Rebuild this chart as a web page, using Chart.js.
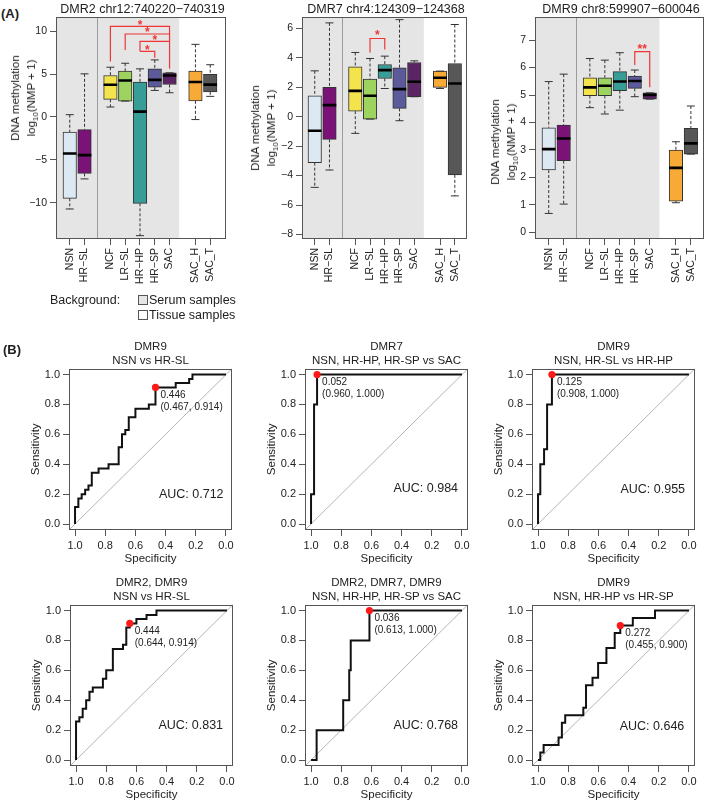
<!DOCTYPE html>
<html>
<head>
<meta charset="utf-8">
<script src="https://cdn.jsdelivr.net/npm/chart.js@4.4.1/dist/chart.umd.min.js"></script>
<style>
  body { margin: 0; background: #fff; font-family: "Liberation Sans", Arial, sans-serif; }
  #page { position: relative; width: 709px; height: 806px; overflow: hidden; }
  canvas, .txt { position: absolute; }
  .txt { color: #222; white-space: nowrap; }
  sub { font-size: 8px; line-height: 0; vertical-align: -3px; }
</style>
</head>
<body>
<div id="page"></div>
<script>
// ---- box plot data (panel A) ----
const groups = ['NSN', 'HR\u2212SL', 'NCF', 'LR\u2212SL', 'HR\u2212HP', 'HR\u2212SP', 'SAC', 'SAC_H', 'SAC_T'];
const groupPos = [1, 2, 3.75, 4.75, 5.75, 6.75, 7.75, 9.5, 10.5];
const groupColors = ['#dce8f2', '#7a1277', '#f3e44e', '#9dd45f', '#389c97', '#5c5a9b', '#5b2465', '#f7aa36', '#575757'];

// DMR2: lower whisker, Q1, median, Q3, upper whisker
const dmr2Low = [-10.7, -7.2, 1.16, 1.85, -13.8, 3.09, 2.82, -0.3, 2.4];
const dmr2Q1 = [-9.46, -6.56, 2.05, 1.85, -10.04, 3.47, 3.78, 1.88, 2.92];
const dmr2Med = [-4.25, -4.44, 3.75, 4.25, 0.62, 4.32, 4.83, 4.07, 3.77];
const dmr2Q3 = [-1.74, -1.47, 4.83, 5.33, 4.05, 5.6, 5.14, 5.35, 4.97];
const dmr2High = [0.27, 5.02, 5.79, 6.25, 5.6, 6.64, 5.14, 8.45, 6.08];
const dmr2Ticks = [-10, -5, 0, 5, 10];

// DMR7
const dmr7Low = [-4.8, -3.62, -1.13, -0.16, 1.92, -0.27, 1.36, 1.92, -5.38];
const dmr7Q1 = [-3.12, -1.54, 0.38, -0.16, 2.6, 0.57, 1.36, 2.0, -3.95];
const dmr7Med = [-0.95, 0.79, 1.76, 1.43, 3.17, 1.88, 2.38, 2.65, 2.26];
const dmr7Q3 = [1.43, 2.0, 3.4, 2.56, 3.55, 3.33, 3.69, 3.1, 3.62];
const dmr7High = [3.12, 6.38, 4.37, 3.96, 4.12, 6.6, 3.8, 3.1, 6.27];
const dmr7Ticks = [-8, -6, -4, -2, 0, 2, 4, 6];

// DMR9
const dmr9Low = [0.69, 1.03, 4.54, 4.31, 4.45, 4.94, 4.85, 1.08, 2.85];
const dmr9Q1 = [2.27, 2.61, 4.98, 4.98, 5.16, 5.24, 4.85, 1.14, 2.85];
const dmr9Med = [3.03, 3.42, 5.28, 5.34, 5.49, 5.51, 5.0, 2.35, 3.24];
const dmr9Q3 = [3.81, 3.91, 5.63, 5.63, 5.85, 5.69, 5.08, 3.0, 3.79];
const dmr9High = [5.49, 5.76, 6.33, 6.27, 6.54, 5.91, 5.08, 3.3, 4.6];
const dmr9Ticks = [0, 1, 2, 3, 4, 5, 6, 7];

// significance brackets: from group, to group, bar height, leg ends, star
const dmr2BrFrom = [3.75, 4.75, 5.75, 5.75];
const dmr2BrTo = [7.75, 7.75, 7.75, 6.75];
const dmr2BrTop = [10.54, 9.65, 8.8, 7.64];
const dmr2BrLegA = [6.45, 7.8, 7.64, 7.64];
const dmr2BrLegB = [5.6, 5.6, 5.6, 6.9];
const dmr2Stars = ['*', '*', '*', '*'];
const dmr2StarY = [10.65, 9.75, 8.9, 7.75];

const dmr7BrFrom = [4.75];
const dmr7BrTo = [5.75];
const dmr7BrTop = [5.32];
const dmr7BrLegA = [4.37];
const dmr7BrLegB = [4.57];
const dmr7Stars = ['*'];
const dmr7StarY = [5.52];

const dmr9BrFrom = [6.75];
const dmr9BrTo = [7.75];
const dmr9BrTop = [6.58];
const dmr9BrLegA = [6.09];
const dmr9BrLegB = [5.28];
const dmr9Stars = ['**'];
const dmr9StarY = [6.66];

// ---- ROC data (panel B): points where the curve rises ----
const roc1Spec = [1, 1, 0.978, 0.956, 0.933, 0.911, 0.889, 0.844, 0.778, 0.711, 0.689, 0.667, 0.644, 0.6, 0.511, 0.467, 0.333, 0.244, 0.222, 0];
const roc1Sens = [0, 0.114, 0.171, 0.2, 0.229, 0.257, 0.343, 0.371, 0.4, 0.514, 0.6, 0.629, 0.714, 0.771, 0.8, 0.914, 0.943, 0.971, 1, 1];
const roc2Spec = [1, 1, 0.98, 0.96, 0];
const roc2Sens = [0, 0.2, 0.8, 1, 1];
const roc3Spec = [1, 1, 0.985, 0.96, 0.94, 0.908, 0];
const roc3Sens = [0, 0.2, 0.4, 0.5, 0.8, 1, 1];
const roc4Spec = [1, 1, 0.978, 0.956, 0.933, 0.911, 0.889, 0.822, 0.8, 0.756, 0.689, 0.667, 0.644, 0.6, 0.533, 0.467, 0];
const roc4Sens = [0, 0.257, 0.286, 0.343, 0.4, 0.457, 0.486, 0.543, 0.6, 0.743, 0.771, 0.886, 0.914, 0.943, 0.971, 1, 1];
const roc5Spec = [1, 0.963, 0.787, 0.747, 0.737, 0.613, 0];
const roc5Sens = [0, 0.2, 0.4, 0.6, 0.8, 1, 1];
const roc6Spec = [1, 0.985, 0.963, 0.864, 0.842, 0.82, 0.7, 0.682, 0.639, 0.602, 0.547, 0.492, 0.455, 0.372, 0.225, 0];
const roc6Sens = [0, 0.05, 0.1, 0.15, 0.25, 0.3, 0.35, 0.5, 0.55, 0.65, 0.75, 0.85, 0.9, 0.95, 1, 1];

const rocMarkers = ['DMR9', 'DMR7', 'DMR9', 'DMR2, DMR9', 'DMR2, DMR7, DMR9', 'DMR9'];
const rocGroups = ['NSN vs HR-SL', 'NSN, HR-HP, HR-SP vs SAC', 'NSN, HR-SL vs HR-HP', 'NSN vs HR-SL', 'NSN, HR-HP, HR-SP vs SAC', 'NSN, HR-HP vs HR-SP'];
const rocThreshold = ['0.446', '0.052', '0.125', '0.444', '0.036', '0.272'];
const rocBestSpec = [0.467, 0.960, 0.908, 0.644, 0.613, 0.455];
const rocBestSens = [0.914, 1.000, 1.000, 0.914, 1.000, 0.900];
const rocAuc = ['0.712', '0.984', '0.955', '0.831', '0.768', '0.646'];
const rocTicks = [0, 0.2, 0.4, 0.6, 0.8, 1];

// ---- setup ----
const FONT = '"Liberation Sans", Arial, Helvetica, sans-serif';
Chart.defaults.font.family = FONT;
Chart.defaults.color = '#222';
Chart.defaults.animation = false;
Chart.defaults.plugins.legend.display = false;
Chart.defaults.plugins.tooltip.enabled = false;

const page = document.getElementById('page');
const RED = '#ef3535';
const FRAME = '#555';

// Method: AddText
// Purpose: puts an html text centred on (cx, cy), or left aligned when align is 'left'
const AddText = (html, cx, cy, style, align, extra) => {
  const div = document.createElement('div');
  div.className = 'txt';
  div.innerHTML = html;
  div.style.left = cx + 'px';
  div.style.top = cy + 'px';
  div.style.transform = (align === 'left' ? 'translate(0,-50%)' : 'translate(-50%,-50%)') + (extra || '');
  Object.assign(div.style, style || {});
  page.appendChild(div);
  return div;
};

const AddCanvas = (left, top, width, height) => {
  const canvas = document.createElement('canvas');
  canvas.width = width;
  canvas.height = height;
  canvas.style.left = left + 'px';
  canvas.style.top = top + 'px';
  canvas.style.width = width + 'px';
  canvas.style.height = height + 'px';
  page.appendChild(canvas);
  return canvas;
};

// gray serum area, separator, frame and text notes in data coordinates
const decorPlugin = {
  id: 'decor',
  beforeDatasetsDraw(chart, args, opts) {
    if (opts.grayTo === undefined) return;
    const { ctx, chartArea: a, scales: { x } } = chart;
    ctx.save();
    ctx.fillStyle = '#e5e5e5';
    ctx.fillRect(a.left, a.top, x.getPixelForValue(opts.grayTo) - a.left, a.bottom - a.top);
    const sx = Math.round(x.getPixelForValue(opts.sepAt)) + 0.5;
    ctx.strokeStyle = '#9c9c9c';
    ctx.lineWidth = 1;
    ctx.beginPath();
    ctx.moveTo(sx, a.top);
    ctx.lineTo(sx, a.bottom);
    ctx.stroke();
    ctx.restore();
  },
  afterDatasetsDraw(chart, args, opts) {
    const { ctx, chartArea: a, scales: { x, y } } = chart;
    ctx.save();
    ctx.strokeStyle = FRAME;
    ctx.lineWidth = 1;
    ctx.strokeRect(Math.round(a.left) + 0.5, Math.round(a.top) + 0.5,
      Math.round(a.right - a.left) - 1, Math.round(a.bottom - a.top) - 1);
    (opts.notes || []).forEach((n) => {
      ctx.font = n.font;
      ctx.fillStyle = n.color || '#222';
      ctx.textAlign = n.align || 'center';
      ctx.textBaseline = 'middle';
      ctx.fillText(n.text, x.getPixelForValue(n.x) + (n.dx || 0), y.getPixelForValue(n.y) + (n.dy || 0));
    });
    ctx.restore();
  }
};

const gridOpts = { drawOnChartArea: false, drawTicks: true, tickLength: 6, color: FRAME };

// Method: BoxPanel
// Purpose: draws one DMR box plot with its brackets through Chart.js scales
function BoxPanel(geo, title, low, q1, med, q3, high, yTicks, br) {
  const axisW = 30, padTop = 10, padRight = 6;
  const canvas = AddCanvas(geo.L - axisW, geo.T - padTop, axisW + geo.R - geo.L + padRight, 300 - geo.T + padTop);

  const whiskers = [];
  const caps = [];
  groupPos.forEach((x, i) => {
    whiskers.push({ x, y: high[i] }, { x, y: q3[i] }, { x, y: null }, { x, y: q1[i] }, { x, y: low[i] }, { x, y: null });
    caps.push({ x, y: low[i] }, { x, y: high[i] });
  });

  const brackets = [];
  const notes = [];
  br.from.forEach((a, i) => {
    const b = br.to[i];
    brackets.push({ x: a, y: br.legA[i] }, { x: a, y: br.top[i] }, { x: b, y: br.top[i] }, { x: b, y: br.legB[i] }, { x: b, y: null });
    notes.push({ x: (a + b) / 2, y: br.starY[i], text: br.stars[i], font: 'bold 12px ' + FONT, color: RED });
  });

  new Chart(canvas, {
    type: 'bar',
    data: {
      datasets: [
        {
          type: 'scatter', data: groupPos.map((x, i) => ({ x, y: med[i] })), order: 0,
          pointStyle: 'line', pointRadius: 6.8, pointHoverRadius: 6.8, pointBorderColor: '#000', pointBorderWidth: 2.6
        },
        {
          type: 'line', data: brackets, order: 1, borderColor: RED, borderWidth: 1.2,
          pointRadius: 0, spanGaps: false, tension: 0
        },
        {
          type: 'scatter', data: caps, order: 2,
          pointStyle: 'line', pointRadius: 4, pointHoverRadius: 4, pointBorderColor: '#333', pointBorderWidth: 1
        },
        {
          type: 'bar', data: groupPos.map((x, i) => ({ x, y: [q1[i], q3[i]] })), order: 3,
          backgroundColor: groupColors, borderColor: '#333', borderWidth: 1, borderSkipped: false, barThickness: 13.5
        },
        {
          type: 'line', data: whiskers, order: 4, borderColor: '#333', borderWidth: 1, borderDash: [3, 2],
          pointRadius: 0, spanGaps: false, tension: 0
        }
      ]
    },
    options: {
      responsive: false,
      devicePixelRatio: 1,
      layout: { padding: { top: padTop, right: padRight, left: 0, bottom: 0 } },
      scales: {
        x: {
          type: 'linear', min: geo.xmin, max: geo.xmax, offset: false,
          grid: Object.assign({ offset: false }, gridOpts),
          border: { display: false },
          afterBuildTicks: (s) => { s.ticks = groupPos.map((v) => ({ value: v })); },
          afterFit: (s) => { s.height = 300 - geo.B; },
          ticks: {
            autoSkip: false, minRotation: 90, maxRotation: 90, padding: 3,
            font: { size: 10.5 }, color: '#222',
            callback: (v, i) => groups[i]
          }
        },
        y: {
          type: 'linear', min: geo.ymin, max: geo.ymax, beginAtZero: false,
          grid: gridOpts,
          border: { display: false },
          afterBuildTicks: (s) => { s.ticks = yTicks.map((v) => ({ value: v })); },
          afterFit: (s) => { s.width = axisW; },
          ticks: {
            padding: 3, font: { size: 10.5 }, color: '#222',
            callback: (v) => (v < 0 ? '\u2212' + (-v) : String(v))
          }
        }
      },
      plugins: { decor: { grayTo: 8.4, sepAt: 2.85, notes } }
    },
    plugins: [decorPlugin]
  });

  AddText(title, (geo.L + geo.R) / 2, 8.5, { fontSize: '12.5px' });
  AddText('DNA methylation<br>log<sub>10</sub>(NMP + 1)', geo.titleX, geo.titleY,
    { fontSize: '11.5px', lineHeight: '16px', textAlign: 'center' }, 'center', ' rotate(-90deg)');
}

// Method: RocPanel
// Purpose: draws one ROC curve with the chance diagonal and best threshold
function RocPanel(geo, idx, spec, sens) {
  const size = 163, axisW = 44, axisH = 40, padTop = 8, padRight = 12;
  const canvas = AddCanvas(geo.L - axisW, geo.T - padTop, axisW + size + padRight, padTop + size + axisH);

  const notes = [
    { x: rocBestSpec[idx], y: rocBestSens[idx], dx: 5, dy: 8, align: 'left', text: rocThreshold[idx], font: '10px ' + FONT },
    {
      x: rocBestSpec[idx], y: rocBestSens[idx], dx: 5, dy: 20, align: 'left',
      text: '(' + rocBestSpec[idx].toFixed(3) + ', ' + rocBestSens[idx].toFixed(3) + ')', font: '10px ' + FONT
    },
    { x: geo.aucX, y: geo.aucY, text: 'AUC: ' + rocAuc[idx], font: '12.5px ' + FONT }
  ];

  new Chart(canvas, {
    type: 'scatter',
    data: {
      datasets: [
        {
          data: [{ x: rocBestSpec[idx], y: rocBestSens[idx] }], order: 0,
          pointRadius: 3.6, pointHoverRadius: 3.6, pointBackgroundColor: '#ff1a1a', pointBorderWidth: 0
        },
        {
          data: spec.map((x, i) => ({ x, y: sens[i] })), order: 1, showLine: true, stepped: 'before',
          borderColor: '#111', borderWidth: 2, pointRadius: 0
        },
        {
          data: [{ x: 1.04, y: -0.04 }, { x: -0.04, y: 1.04 }], order: 2, showLine: true,
          borderColor: '#b5b5b5', borderWidth: 1, pointRadius: 0
        }
      ]
    },
    options: {
      responsive: false,
      devicePixelRatio: 1,
      layout: { padding: { top: padTop, right: padRight, left: 0, bottom: 0 } },
      scales: {
        x: {
          type: 'linear', reverse: true, min: -0.04, max: 1.04,
          grid: gridOpts, border: { display: false },
          afterBuildTicks: (s) => { s.ticks = rocTicks.map((v) => ({ value: v })); },
          afterFit: (s) => { s.height = axisH; },
          ticks: { padding: 3, font: { size: 11 }, color: '#222', callback: (v) => v.toFixed(1) },
          title: { display: true, text: 'Specificity', font: { size: 11.5 }, color: '#222' }
        },
        y: {
          type: 'linear', min: -0.04, max: 1.04,
          grid: gridOpts, border: { display: false },
          afterBuildTicks: (s) => { s.ticks = rocTicks.map((v) => ({ value: v })); },
          afterFit: (s) => { s.width = axisW; },
          ticks: { padding: 3, font: { size: 11 }, color: '#222', callback: (v) => v.toFixed(1) },
          title: { display: true, text: 'Sensitivity', font: { size: 11.5 }, color: '#222' }
        }
      },
      plugins: { decor: { notes } }
    },
    plugins: [decorPlugin]
  });

  const cx = geo.L + size / 2;
  AddText(rocMarkers[idx], cx, geo.T - 21, { fontSize: '11.5px' });
  AddText(rocGroups[idx], cx, geo.T - 7, { fontSize: '11.5px' });
}

// ---- panel A ----
AddText('(A)', 1, 13, { fontSize: '13px', fontWeight: 'bold' }, 'left');
BoxPanel({ L: 56, R: 229, T: 17, B: 239, xmin: 0.07, xmax: 11.54, ymin: -14.19, ymax: 11.63, titleX: 23, titleY: 98 },
  'DMR2 chr12:740220\u2212740319', dmr2Low, dmr2Q1, dmr2Med, dmr2Q3, dmr2High, dmr2Ticks,
  { from: dmr2BrFrom, to: dmr2BrTo, top: dmr2BrTop, legA: dmr2BrLegA, legB: dmr2BrLegB, stars: dmr2Stars, starY: dmr2StarY });
BoxPanel({ L: 302, R: 470, T: 17, B: 239, xmin: 0.136, xmax: 11.3, ymin: -8.31, ymax: 6.78, titleX: 263, titleY: 128 },
  'DMR7 chr4:124309\u2212124368', dmr7Low, dmr7Q1, dmr7Med, dmr7Q3, dmr7High, dmr7Ticks,
  { from: dmr7BrFrom, to: dmr7BrTo, top: dmr7BrTop, legA: dmr7BrLegA, legB: dmr7BrLegB, stars: dmr7Stars, starY: dmr7StarY });
BoxPanel({ L: 535, R: 707, T: 17, B: 239, xmin: 0.083, xmax: 11.35, ymin: -0.24, ymax: 7.84, titleX: 503, titleY: 142 },
  'DMR9 chr8:599907\u2212600046', dmr9Low, dmr9Q1, dmr9Med, dmr9Q3, dmr9High, dmr9Ticks,
  { from: dmr9BrFrom, to: dmr9BrTo, top: dmr9BrTop, legA: dmr9BrLegA, legB: dmr9BrLegB, stars: dmr9Stars, starY: dmr9StarY });

// background legend
AddText('Background:', 50, 300, { fontSize: '12.5px' }, 'left');
const legendBox = (top, fill) => {
  const d = document.createElement('div');
  Object.assign(d.style, { position: 'absolute', left: '138px', top: top + 'px', width: '8px', height: '8px', background: fill, border: '1px solid #555' });
  page.appendChild(d);
};
legendBox(295, '#e5e5e5');
legendBox(310, '#fff');
AddText('Serum samples', 149, 300, { fontSize: '12.5px' }, 'left');
AddText('Tissue samples', 149, 315, { fontSize: '12.5px' }, 'left');

// ---- panel B ----
AddText('(B)', 3, 349, { fontSize: '13px', fontWeight: 'bold' }, 'left');
RocPanel({ L: 69, T: 367, aucX: 0.23, aucY: 0.2 }, 0, roc1Spec, roc1Sens);
RocPanel({ L: 305, T: 367, aucX: 0.24, aucY: 0.235 }, 1, roc2Spec, roc2Sens);
RocPanel({ L: 532, T: 367, aucX: 0.24, aucY: 0.23 }, 2, roc3Spec, roc3Sens);
RocPanel({ L: 70, T: 603, aucX: 0.24, aucY: 0.23 }, 3, roc4Spec, roc4Sens);
RocPanel({ L: 305, T: 603, aucX: 0.24, aucY: 0.23 }, 4, roc5Spec, roc5Sens);
RocPanel({ L: 532, T: 603, aucX: 0.245, aucY: 0.225 }, 5, roc6Spec, roc6Sens);
</script>
</body>
</html>
